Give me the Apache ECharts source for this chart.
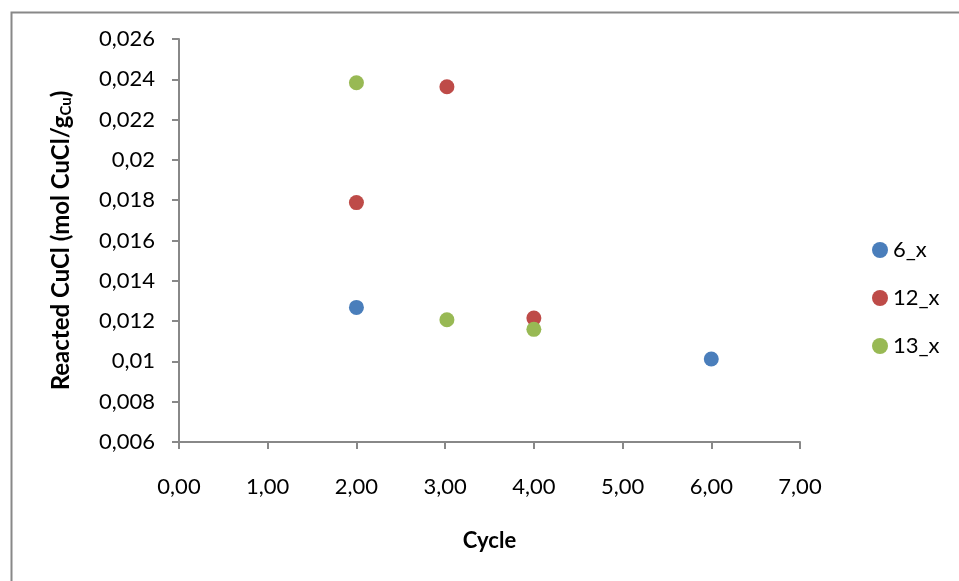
<!DOCTYPE html>
<html>
<head>
<meta charset="utf-8">
<script src="https://cdn.jsdelivr.net/npm/echarts@6/dist/echarts.min.js"></script>
<style>html,body{margin:0;padding:0;background:#fff;}#c{width:959px;height:581px;}</style>
</head>
<body>
<div id="c"></div>
<script>
var seriesNames = ['6_x', '12_x', '13_x'];
var seriesColors = ['#4a7ebb', '#be4b48', '#98b954'];
var data6x = [[2, 0.01268], [6, 0.01012]];
var data12x = [[2, 0.01788], [3.02, 0.02363], [4, 0.01215]];
var data13x = [[2, 0.02383], [3.02, 0.01207], [4, 0.01159]];
var xMin = 0, xMax = 7, xStep = 1;
var yMin = 0.006, yMax = 0.026, yStep = 0.002;

var FONT = 'Lato, "Open Sans", sans-serif';
var chart = echarts.init(document.getElementById('c'));
function fmtX(v){ return v.toFixed(2).replace('.', ','); }
function fmtY(v){ var s = (+v.toFixed(3)).toString(); return s.replace('.', ','); }
var allData = [data6x, data12x, data13x];
chart.setOption({
  animation: false,
  backgroundColor: '#fff',
  graphic: [{
    type: 'rect', left: 9, top: 10, shape: {width: 1000, height: 1000},
    style: {fill: 'none', stroke: '#888', lineWidth: 2}, silent: true
  }],
  grid: {left: 179, top: 39, right: 159, bottom: 139},
  legend: {
    orient: 'vertical', left: 867, top: 234, itemGap: 26,
    itemWidth: 16, itemHeight: 16, icon: 'circle',
    textStyle: {fontFamily: FONT, fontSize: 22, color: '#000'},
    data: seriesNames
  },
  xAxis: {
    type: 'value', min: xMin, max: xMax, interval: xStep,
    name: 'Cycle', nameLocation: 'middle', nameGap: 88,
    nameTextStyle: {fontFamily: FONT, fontSize: 22, fontWeight: 'bold', color: '#000'},
    axisLine: {show: true, lineStyle: {color: '#888', width: 2}},
    axisTick: {show: true, length: 7, lineStyle: {color: '#888', width: 2}},
    axisLabel: {fontFamily: FONT, fontSize: 22, color: '#000', margin: 34, formatter: fmtX},
    splitLine: {show: false}
  },
  yAxis: {
    type: 'value', min: yMin, max: yMax, interval: yStep,
    name: '{b|Reacted CuCl (mol CuCl/g}{s|Cu}{b|)}', nameLocation: 'middle', nameGap: 105,
    nameTextStyle: {rich: {
      b: {fontFamily: FONT, fontSize: 24, fontWeight: 'bold', color: '#000'},
      s: {fontFamily: FONT, fontSize: 15, fontWeight: 'bold', color: '#000', verticalAlign: 'bottom', padding: [10,0,0,0]}
    }},
    axisLine: {show: true, lineStyle: {color: '#888', width: 2}},
    axisTick: {show: true, length: 7, lineStyle: {color: '#888', width: 2}},
    axisLabel: {fontFamily: FONT, fontSize: 22, color: '#000', margin: 24, formatter: fmtY},
    splitLine: {show: false}
  },
  series: seriesNames.map(function(n, i){
    return {
      name: n, type: 'scatter', data: allData[i], symbol: 'circle', symbolSize: 15,
      itemStyle: {color: seriesColors[i], opacity: 1}
    };
  })
});
</script>
</body>
</html>
